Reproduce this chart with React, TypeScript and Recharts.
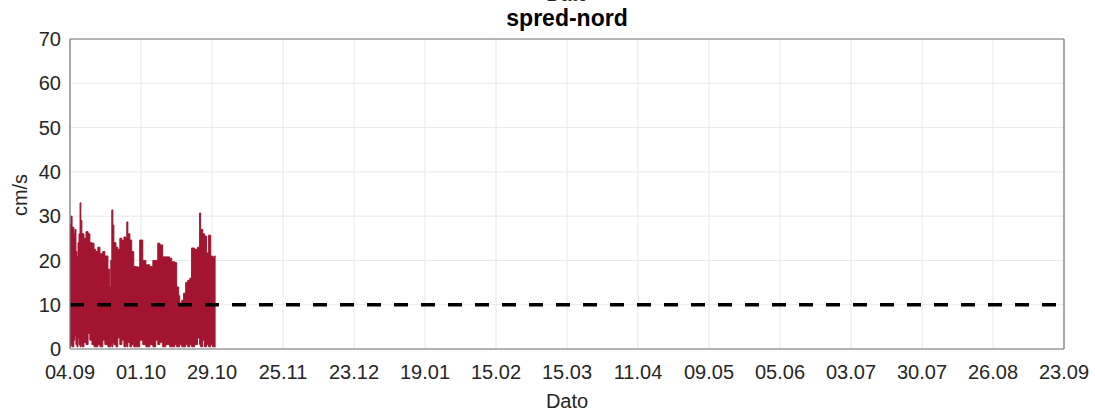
import {
  ComposedChart,
  Area,
  XAxis,
  YAxis,
  CartesianGrid,
  ReferenceLine,
} from "recharts";

// days after 04.09 for each sample of the speed envelope
const dayOffset = [
  0, 0.4, 0.8, 1.5, 1.9, 2.3, 2.7, 3.1, 3.5, 3.9,
  4.2, 4.6, 5.4, 6.2, 7.0, 7.7, 8.5, 9.3, 10.0, 10.8,
  11.6, 12.7, 13.5, 14.7, 15.4, 15.8, 16.2, 16.6, 17.0, 17.8,
  18.5, 19.3, 20.1, 20.9, 21.6, 22.0, 22.4, 23.2, 23.9, 24.7,
  25.9, 27.0, 28.2, 29.4, 30.9, 32.1, 33.2, 34.0, 34.8, 35.9,
  37.1, 38.6, 39.4, 40.6, 41.3, 42.1, 42.5, 43.3, 44.0, 44.8,
  45.6, 46.4, 47.1, 48.3, 49.4, 50.2, 50.6, 51.4, 52.1, 52.9,
  53.7, 54.5, 55.2, 56.0, 56.4,
];

const speedHigh = [
  28, 30, 27.5, 26, 27, 22, 20.8, 24, 26, 33,
  29, 26, 25, 26.5, 26, 24, 23.9, 22.5, 22, 23,
  21.5, 22, 21, 18, 14, 20, 31.4, 28, 24, 23,
  22.5, 25, 24.5, 25.3, 25, 28.7, 26, 24.6, 22, 18.6,
  18.5, 24.6, 20, 19, 18.6, 20, 20, 23.9, 23.5, 20.8,
  20.8, 20.5, 19.7, 19.5, 14, 12, 10.4, 11, 12.6, 15,
  15.5, 16, 22.8, 22.5, 23, 30.7, 27, 26, 25.5, 21.7,
  25.7, 21, 20.8, 21, 21,
];

const speedLow = [
  0.5, 1, 0.5, 2, 3, 1, 0.5, 2.5, 1, 0.5,
  1, 0.5, 1.5, 1, 3.5, 2, 1, 0.5, 0.5, 1,
  0.5, 2, 1, 0.5, 0.5, 1, 0.5, 1.5, 1, 0.5,
  2.5, 1, 2, 0.5, 1, 0.5, 1.5, 0.5, 1, 0.5,
  0.5, 2, 1, 0.5, 1, 0.5, 2, 1, 1.5, 0.5,
  1, 0.5, 0.5, 1, 0.5, 0.5, 1, 0.5, 0.5, 1,
  0.5, 1, 0.5, 1, 2.5, 1, 0.5, 2, 0.5, 1,
  0.5, 1, 0.5, 0.5, 0.5,
];

const xTicks = [0, 27.5, 55, 82.5, 110, 137.5, 165, 192.5, 220, 247.5, 275, 302.5, 330, 357.5, 385];
const xTickLabels = [
  "04.09", "01.10", "29.10", "25.11", "23.12", "19.01", "15.02", "15.03",
  "11.04", "09.05", "05.06", "03.07", "30.07", "26.08", "23.09",
];
const yTicks = [0, 10, 20, 30, 40, 50, 60, 70];
const limit = 10;

const data = dayOffset.map((d, i) => ({
  day: d,
  range: [speedLow[i], speedHigh[i]],
}));

const font = "'Liberation Sans', Arial, sans-serif";
const tickStyle = { fontSize: 20, fill: "#262626", fontFamily: font };

export default function App() {
  return (
    <div
      style={{
        position: "absolute",
        left: 0,
        top: 0,
        width: 1095,
        height: 412,
        background: "#fff",
        fontFamily: font,
        overflow: "hidden",
      }}
    >
      {/* bottom of the previous subplot's axis label */}
      <div
        style={{
          position: "absolute",
          top: -17,
          left: 0,
          width: 1134,
          textAlign: "center",
          fontSize: 20,
          color: "#262626",
        }}
      >
        Dato
      </div>
      <div
        style={{
          position: "absolute",
          top: 5,
          left: 0,
          width: 1134,
          textAlign: "center",
          fontSize: 23,
          fontWeight: "bold",
          color: "#000",
        }}
      >
        spred-nord
      </div>
      <div
        style={{
          position: "absolute",
          left: -1,
          top: 195,
          transform: "translateY(-50%) rotate(-90deg)",
          transformOrigin: "center",
          fontSize: 20,
          color: "#262626",
        }}
      >
        cm/s
      </div>
      <div
        style={{
          position: "absolute",
          top: 390,
          left: 0,
          width: 1134,
          textAlign: "center",
          fontSize: 20,
          color: "#262626",
        }}
      >
        Dato
      </div>

      <ComposedChart
        width={1095}
        height={412}
        data={data}
        margin={{ top: 39, right: 31, bottom: 33, left: 30 }}
      >
        <CartesianGrid stroke="#e8e8e8" strokeWidth={1} />
        <XAxis
          dataKey="day"
          type="number"
          domain={[0, 385]}
          ticks={xTicks}
          interval={0}
          tickFormatter={(v: number) => xTickLabels[xTicks.indexOf(v)] ?? ""}
          tick={tickStyle}
          tickLine={false}
          tickSize={8}
          tickMargin={8}
          axisLine={{ stroke: "#777", strokeWidth: 1.2 }}
          height={30}
        />
        <YAxis
          type="number"
          domain={[0, 70]}
          ticks={yTicks}
          interval={0}
          tick={tickStyle}
          tickLine={false}
          tickSize={6}
          tickMargin={3}
          axisLine={{ stroke: "#777", strokeWidth: 1.2 }}
          width={40}
        />
        <ReferenceLine y={70} stroke="#777" strokeWidth={1.2} />
        <ReferenceLine x={385} stroke="#777" strokeWidth={1.2} />
        <Area
          dataKey="range"
          type="stepAfter"
          stroke="#A2142F"
          strokeWidth={1}
          fill="#A2142F"
          fillOpacity={1}
          isAnimationActive={false}
          dot={false}
          activeDot={false}
        />
        <ReferenceLine
          y={limit}
          stroke="#000"
          strokeWidth={3.5}
          strokeDasharray="14 13"
        />
      </ComposedChart>
    </div>
  );
}
